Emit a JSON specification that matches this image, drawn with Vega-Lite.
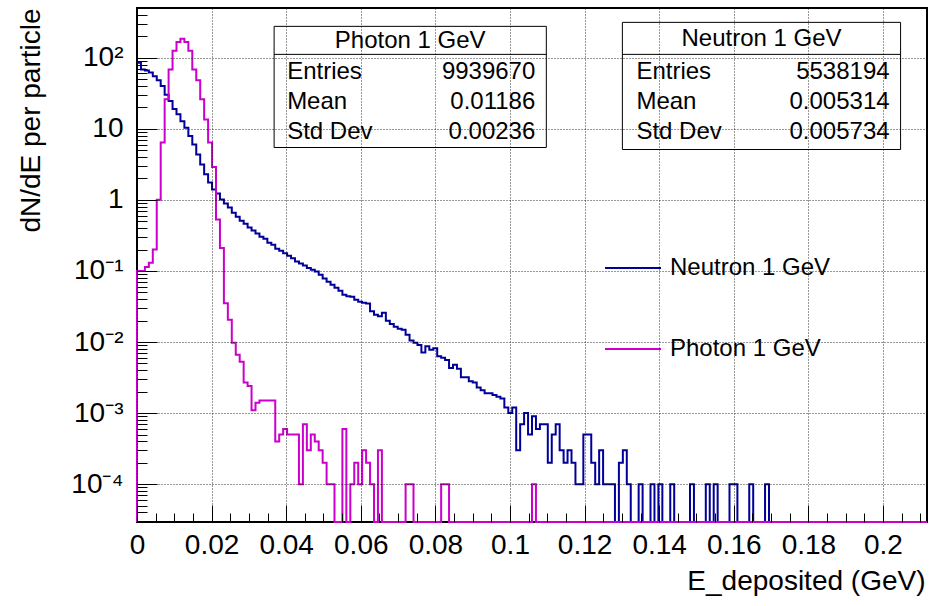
{
  "$schema": "https://vega.github.io/schema/vega-lite/v6.json",
  "width": 790,
  "height": 514,
  "autosize": "none",
  "padding": {"left": 137, "top": 8, "right": 3, "bottom": 84},
  "background": "white",
  "config": {
    "view": {"stroke": "black", "strokeWidth": 2},
    "font": "Liberation Sans",
    "axis": {"labelFont": "Liberation Sans", "titleFont": "Liberation Sans", "labelColor": "black", "titleColor": "black", "titleFontWeight": "normal"}
  },
  "datasets": {
    "hist": [
      {"s":"Neutron 1 GeV","E":0,"v":85},{"s":"Neutron 1 GeV","E":0.001059,"v":68},{"s":"Neutron 1 GeV","E":0.002118,"v":66},{"s":"Neutron 1 GeV","E":0.003177,"v":62},{"s":"Neutron 1 GeV","E":0.004236,"v":55},{"s":"Neutron 1 GeV","E":0.005295,"v":48},{"s":"Neutron 1 GeV","E":0.006354,"v":40},{"s":"Neutron 1 GeV","E":0.007413,"v":30},{"s":"Neutron 1 GeV","E":0.008472,"v":24.5},{"s":"Neutron 1 GeV","E":0.009531,"v":19},
      {"s":"Neutron 1 GeV","E":0.01059,"v":16},{"s":"Neutron 1 GeV","E":0.011649,"v":12.8},{"s":"Neutron 1 GeV","E":0.012708,"v":10.3},{"s":"Neutron 1 GeV","E":0.013767,"v":7.9},{"s":"Neutron 1 GeV","E":0.014826,"v":6.0},{"s":"Neutron 1 GeV","E":0.015885,"v":4.35},{"s":"Neutron 1 GeV","E":0.016944,"v":3.15},{"s":"Neutron 1 GeV","E":0.018003,"v":2.3},{"s":"Neutron 1 GeV","E":0.019062,"v":1.75},{"s":"Neutron 1 GeV","E":0.020121,"v":1.4},
      {"s":"Neutron 1 GeV","E":0.02118,"v":1.23},{"s":"Neutron 1 GeV","E":0.022239,"v":1.01},{"s":"Neutron 1 GeV","E":0.023298,"v":0.89},{"s":"Neutron 1 GeV","E":0.024357,"v":0.78},{"s":"Neutron 1 GeV","E":0.025416,"v":0.66},{"s":"Neutron 1 GeV","E":0.026475,"v":0.58},{"s":"Neutron 1 GeV","E":0.027534,"v":0.51},{"s":"Neutron 1 GeV","E":0.028593,"v":0.46},{"s":"Neutron 1 GeV","E":0.029652,"v":0.41},{"s":"Neutron 1 GeV","E":0.030711,"v":0.37},
      {"s":"Neutron 1 GeV","E":0.03177,"v":0.335},{"s":"Neutron 1 GeV","E":0.032829,"v":0.303},{"s":"Neutron 1 GeV","E":0.033888,"v":0.284},{"s":"Neutron 1 GeV","E":0.034947,"v":0.25},{"s":"Neutron 1 GeV","E":0.036006,"v":0.234},{"s":"Neutron 1 GeV","E":0.037065,"v":0.206},{"s":"Neutron 1 GeV","E":0.038124,"v":0.193},{"s":"Neutron 1 GeV","E":0.039183,"v":0.178},{"s":"Neutron 1 GeV","E":0.040242,"v":0.164},{"s":"Neutron 1 GeV","E":0.041301,"v":0.151},
      {"s":"Neutron 1 GeV","E":0.04236,"v":0.136},{"s":"Neutron 1 GeV","E":0.043419,"v":0.127},{"s":"Neutron 1 GeV","E":0.044478,"v":0.119},{"s":"Neutron 1 GeV","E":0.045537,"v":0.11},{"s":"Neutron 1 GeV","E":0.046596,"v":0.104},{"s":"Neutron 1 GeV","E":0.047655,"v":0.098},{"s":"Neutron 1 GeV","E":0.048714,"v":0.0887},{"s":"Neutron 1 GeV","E":0.049773,"v":0.078},{"s":"Neutron 1 GeV","E":0.050832,"v":0.0707},{"s":"Neutron 1 GeV","E":0.051891,"v":0.064},
      {"s":"Neutron 1 GeV","E":0.05295,"v":0.058},{"s":"Neutron 1 GeV","E":0.054009,"v":0.0528},{"s":"Neutron 1 GeV","E":0.055068,"v":0.0463},{"s":"Neutron 1 GeV","E":0.056127,"v":0.0441},{"s":"Neutron 1 GeV","E":0.057186,"v":0.0434},{"s":"Neutron 1 GeV","E":0.058245,"v":0.0394},{"s":"Neutron 1 GeV","E":0.059304,"v":0.037},{"s":"Neutron 1 GeV","E":0.060363,"v":0.0358},{"s":"Neutron 1 GeV","E":0.061422,"v":0.0347},{"s":"Neutron 1 GeV","E":0.062481,"v":0.027},
      {"s":"Neutron 1 GeV","E":0.06354,"v":0.0242},{"s":"Neutron 1 GeV","E":0.064599,"v":0.0231},{"s":"Neutron 1 GeV","E":0.065658,"v":0.0259},{"s":"Neutron 1 GeV","E":0.066717,"v":0.02},{"s":"Neutron 1 GeV","E":0.067776,"v":0.018},{"s":"Neutron 1 GeV","E":0.068835,"v":0.0164},{"s":"Neutron 1 GeV","E":0.069894,"v":0.0154},{"s":"Neutron 1 GeV","E":0.070953,"v":0.0149},{"s":"Neutron 1 GeV","E":0.072012,"v":0.0127},{"s":"Neutron 1 GeV","E":0.073071,"v":0.0105},
      {"s":"Neutron 1 GeV","E":0.07413,"v":0.0098},{"s":"Neutron 1 GeV","E":0.075189,"v":0.0091},{"s":"Neutron 1 GeV","E":0.076248,"v":0.0071},{"s":"Neutron 1 GeV","E":0.077307,"v":0.0087},{"s":"Neutron 1 GeV","E":0.078366,"v":0.0078},{"s":"Neutron 1 GeV","E":0.079425,"v":0.0082},{"s":"Neutron 1 GeV","E":0.080484,"v":0.0063},{"s":"Neutron 1 GeV","E":0.081543,"v":0.006},{"s":"Neutron 1 GeV","E":0.082602,"v":0.0056},{"s":"Neutron 1 GeV","E":0.083661,"v":0.0043},
      {"s":"Neutron 1 GeV","E":0.08472,"v":0.0048},{"s":"Neutron 1 GeV","E":0.085779,"v":0.0042},{"s":"Neutron 1 GeV","E":0.086838,"v":0.0032},{"s":"Neutron 1 GeV","E":0.087897,"v":0.0032},{"s":"Neutron 1 GeV","E":0.088956,"v":0.0028},{"s":"Neutron 1 GeV","E":0.090015,"v":0.0027},{"s":"Neutron 1 GeV","E":0.091074,"v":0.0023},{"s":"Neutron 1 GeV","E":0.092133,"v":0.0021},{"s":"Neutron 1 GeV","E":0.093192,"v":0.0019},{"s":"Neutron 1 GeV","E":0.094251,"v":0.0019},
      {"s":"Neutron 1 GeV","E":0.09531,"v":0.0018},{"s":"Neutron 1 GeV","E":0.096369,"v":0.0017},{"s":"Neutron 1 GeV","E":0.097428,"v":0.0016},{"s":"Neutron 1 GeV","E":0.098487,"v":0.0012},{"s":"Neutron 1 GeV","E":0.099546,"v":0.001},{"s":"Neutron 1 GeV","E":0.100605,"v":0.0012},{"s":"Neutron 1 GeV","E":0.101664,"v":0.0003},{"s":"Neutron 1 GeV","E":0.102723,"v":0.0007},{"s":"Neutron 1 GeV","E":0.103782,"v":0.001},{"s":"Neutron 1 GeV","E":0.104841,"v":0.0005},
      {"s":"Neutron 1 GeV","E":0.1059,"v":0.0009},{"s":"Neutron 1 GeV","E":0.106959,"v":0.0006},{"s":"Neutron 1 GeV","E":0.108018,"v":0.0007},{"s":"Neutron 1 GeV","E":0.109077,"v":0.0007},{"s":"Neutron 1 GeV","E":0.110136,"v":0.0002},{"s":"Neutron 1 GeV","E":0.111195,"v":0.0005},{"s":"Neutron 1 GeV","E":0.112254,"v":0.0007},{"s":"Neutron 1 GeV","E":0.113313,"v":0.0003},{"s":"Neutron 1 GeV","E":0.114372,"v":0.0002},{"s":"Neutron 1 GeV","E":0.115431,"v":0.0003},
      {"s":"Neutron 1 GeV","E":0.11649,"v":0.0002},{"s":"Neutron 1 GeV","E":0.117549,"v":0.0001},{"s":"Neutron 1 GeV","E":0.118608,"v":0.0001},{"s":"Neutron 1 GeV","E":0.119667,"v":0.0005},{"s":"Neutron 1 GeV","E":0.120726,"v":0.0005},{"s":"Neutron 1 GeV","E":0.121785,"v":0.0002},{"s":"Neutron 1 GeV","E":0.122844,"v":0.0001},{"s":"Neutron 1 GeV","E":0.123903,"v":0.0003},{"s":"Neutron 1 GeV","E":0.124962,"v":0.0001},{"s":"Neutron 1 GeV","E":0.126021,"v":0.0001},
      {"s":"Neutron 1 GeV","E":0.12708,"v":0.0001},{"s":"Neutron 1 GeV","E":0.128139,"v":0},{"s":"Neutron 1 GeV","E":0.129198,"v":0.0002},{"s":"Neutron 1 GeV","E":0.130257,"v":0.0003},{"s":"Neutron 1 GeV","E":0.131316,"v":0.0001},{"s":"Neutron 1 GeV","E":0.132375,"v":0},{"s":"Neutron 1 GeV","E":0.133434,"v":0},{"s":"Neutron 1 GeV","E":0.134493,"v":0.0001},{"s":"Neutron 1 GeV","E":0.135552,"v":0},{"s":"Neutron 1 GeV","E":0.136611,"v":0},
      {"s":"Neutron 1 GeV","E":0.13767,"v":0.0001},{"s":"Neutron 1 GeV","E":0.138729,"v":0},{"s":"Neutron 1 GeV","E":0.139788,"v":0.0001},{"s":"Neutron 1 GeV","E":0.140847,"v":0},{"s":"Neutron 1 GeV","E":0.141906,"v":0},{"s":"Neutron 1 GeV","E":0.142965,"v":0.0001},{"s":"Neutron 1 GeV","E":0.144024,"v":0},{"s":"Neutron 1 GeV","E":0.145083,"v":0},{"s":"Neutron 1 GeV","E":0.146142,"v":0},{"s":"Neutron 1 GeV","E":0.147201,"v":0},
      {"s":"Neutron 1 GeV","E":0.14826,"v":0.0001},{"s":"Neutron 1 GeV","E":0.149319,"v":0},{"s":"Neutron 1 GeV","E":0.150378,"v":0},{"s":"Neutron 1 GeV","E":0.151437,"v":0},{"s":"Neutron 1 GeV","E":0.152496,"v":0.0001},{"s":"Neutron 1 GeV","E":0.153555,"v":0},{"s":"Neutron 1 GeV","E":0.154614,"v":0.0001},{"s":"Neutron 1 GeV","E":0.155673,"v":0},{"s":"Neutron 1 GeV","E":0.156732,"v":0},{"s":"Neutron 1 GeV","E":0.157791,"v":0},
      {"s":"Neutron 1 GeV","E":0.15885,"v":0.0001},{"s":"Neutron 1 GeV","E":0.159909,"v":0.0001},{"s":"Neutron 1 GeV","E":0.160968,"v":0},{"s":"Neutron 1 GeV","E":0.162027,"v":0},{"s":"Neutron 1 GeV","E":0.163086,"v":0},{"s":"Neutron 1 GeV","E":0.164145,"v":0.0001},{"s":"Neutron 1 GeV","E":0.165204,"v":0},{"s":"Neutron 1 GeV","E":0.166263,"v":0},{"s":"Neutron 1 GeV","E":0.167322,"v":0},{"s":"Neutron 1 GeV","E":0.168381,"v":0.0001},
      {"s":"Neutron 1 GeV","E":0.16944,"v":0},{"s":"Neutron 1 GeV","E":0.2118,"v":0},
      {"s":"Photon 1 GeV","E":0,"v":0},
      {"s":"Photon 1 GeV","E":0,"v":0.1},{"s":"Photon 1 GeV","E":0.001059,"v":0.1},{"s":"Photon 1 GeV","E":0.002118,"v":0.114},{"s":"Photon 1 GeV","E":0.003177,"v":0.13},{"s":"Photon 1 GeV","E":0.004236,"v":0.2},{"s":"Photon 1 GeV","E":0.005295,"v":1.0},{"s":"Photon 1 GeV","E":0.006354,"v":6.4},{"s":"Photon 1 GeV","E":0.007413,"v":26},{"s":"Photon 1 GeV","E":0.008472,"v":68},{"s":"Photon 1 GeV","E":0.009531,"v":125},
      {"s":"Photon 1 GeV","E":0.01059,"v":166},{"s":"Photon 1 GeV","E":0.011649,"v":185},{"s":"Photon 1 GeV","E":0.012708,"v":166},{"s":"Photon 1 GeV","E":0.013767,"v":125},{"s":"Photon 1 GeV","E":0.014826,"v":68},{"s":"Photon 1 GeV","E":0.015885,"v":48},{"s":"Photon 1 GeV","E":0.016944,"v":26},{"s":"Photon 1 GeV","E":0.018003,"v":13.5},{"s":"Photon 1 GeV","E":0.019062,"v":6.4},{"s":"Photon 1 GeV","E":0.020121,"v":2.9},
      {"s":"Photon 1 GeV","E":0.02118,"v":0.53},{"s":"Photon 1 GeV","E":0.022239,"v":0.21},{"s":"Photon 1 GeV","E":0.023298,"v":0.035},{"s":"Photon 1 GeV","E":0.024357,"v":0.0206},{"s":"Photon 1 GeV","E":0.025416,"v":0.0098},{"s":"Photon 1 GeV","E":0.026475,"v":0.0066},{"s":"Photon 1 GeV","E":0.027534,"v":0.0053},{"s":"Photon 1 GeV","E":0.028593,"v":0.0027},{"s":"Photon 1 GeV","E":0.029652,"v":0.0024},{"s":"Photon 1 GeV","E":0.030711,"v":0.0011},
      {"s":"Photon 1 GeV","E":0.03177,"v":0.0014},{"s":"Photon 1 GeV","E":0.032829,"v":0.0015},{"s":"Photon 1 GeV","E":0.033888,"v":0.0015},{"s":"Photon 1 GeV","E":0.034947,"v":0.0015},{"s":"Photon 1 GeV","E":0.036006,"v":0.0015},{"s":"Photon 1 GeV","E":0.037065,"v":0.0004},{"s":"Photon 1 GeV","E":0.038124,"v":0.0005},{"s":"Photon 1 GeV","E":0.039183,"v":0.0006},{"s":"Photon 1 GeV","E":0.040242,"v":0.0005},{"s":"Photon 1 GeV","E":0.041301,"v":0.0005},
      {"s":"Photon 1 GeV","E":0.04236,"v":0.0005},{"s":"Photon 1 GeV","E":0.043419,"v":0.0001},{"s":"Photon 1 GeV","E":0.044478,"v":0.0007},{"s":"Photon 1 GeV","E":0.045537,"v":0.0003},{"s":"Photon 1 GeV","E":0.046596,"v":0.0005},{"s":"Photon 1 GeV","E":0.047655,"v":0.0004},{"s":"Photon 1 GeV","E":0.048714,"v":0.0003},{"s":"Photon 1 GeV","E":0.049773,"v":0.0002},{"s":"Photon 1 GeV","E":0.050832,"v":0.0001},{"s":"Photon 1 GeV","E":0.051891,"v":0.0001},
      {"s":"Photon 1 GeV","E":0.05295,"v":0},{"s":"Photon 1 GeV","E":0.054009,"v":0},{"s":"Photon 1 GeV","E":0.055068,"v":0.0006},{"s":"Photon 1 GeV","E":0.056127,"v":0},{"s":"Photon 1 GeV","E":0.057186,"v":0.0001},{"s":"Photon 1 GeV","E":0.058245,"v":0.0002},{"s":"Photon 1 GeV","E":0.059304,"v":0.0001},{"s":"Photon 1 GeV","E":0.060363,"v":0.0003},{"s":"Photon 1 GeV","E":0.061422,"v":0.0002},{"s":"Photon 1 GeV","E":0.062481,"v":0.0001},
      {"s":"Photon 1 GeV","E":0.06354,"v":0},{"s":"Photon 1 GeV","E":0.064599,"v":0.0003},{"s":"Photon 1 GeV","E":0.065658,"v":0},{"s":"Photon 1 GeV","E":0.066717,"v":0},{"s":"Photon 1 GeV","E":0.067776,"v":0},{"s":"Photon 1 GeV","E":0.068835,"v":0},{"s":"Photon 1 GeV","E":0.069894,"v":0},{"s":"Photon 1 GeV","E":0.070953,"v":0},{"s":"Photon 1 GeV","E":0.072012,"v":0.0001},{"s":"Photon 1 GeV","E":0.073071,"v":0.0001},
      {"s":"Photon 1 GeV","E":0.07413,"v":0},{"s":"Photon 1 GeV","E":0.075189,"v":0},{"s":"Photon 1 GeV","E":0.076248,"v":0},{"s":"Photon 1 GeV","E":0.077307,"v":0},{"s":"Photon 1 GeV","E":0.078366,"v":0},{"s":"Photon 1 GeV","E":0.079425,"v":0},{"s":"Photon 1 GeV","E":0.080484,"v":0},{"s":"Photon 1 GeV","E":0.081543,"v":0.0001},{"s":"Photon 1 GeV","E":0.082602,"v":0.0001},{"s":"Photon 1 GeV","E":0.083661,"v":0},
      {"s":"Photon 1 GeV","E":0.08472,"v":0},{"s":"Photon 1 GeV","E":0.085779,"v":0},{"s":"Photon 1 GeV","E":0.086838,"v":0},{"s":"Photon 1 GeV","E":0.087897,"v":0},{"s":"Photon 1 GeV","E":0.088956,"v":0},{"s":"Photon 1 GeV","E":0.090015,"v":0},{"s":"Photon 1 GeV","E":0.091074,"v":0},{"s":"Photon 1 GeV","E":0.092133,"v":0},{"s":"Photon 1 GeV","E":0.093192,"v":0},{"s":"Photon 1 GeV","E":0.094251,"v":0},
      {"s":"Photon 1 GeV","E":0.09531,"v":0},{"s":"Photon 1 GeV","E":0.096369,"v":0},{"s":"Photon 1 GeV","E":0.097428,"v":0},{"s":"Photon 1 GeV","E":0.098487,"v":0},{"s":"Photon 1 GeV","E":0.099546,"v":0},{"s":"Photon 1 GeV","E":0.100605,"v":0},{"s":"Photon 1 GeV","E":0.101664,"v":0},{"s":"Photon 1 GeV","E":0.102723,"v":0},{"s":"Photon 1 GeV","E":0.103782,"v":0},{"s":"Photon 1 GeV","E":0.104841,"v":0},
      {"s":"Photon 1 GeV","E":0.1059,"v":0.0001},{"s":"Photon 1 GeV","E":0.106959,"v":0},{"s":"Photon 1 GeV","E":0.2118,"v":0}
    ],
    "stats": [
      {"box":"Photon 1 GeV","keys":"Entries\nMean\nStd Dev","vals":"9939670\n0.01186\n0.00236"},
      {"box":"Neutron 1 GeV","keys":"Entries\nMean\nStd Dev","vals":"5538194\n0.005314\n0.005734"}
    ]
  },
  "resolve": {"axis": {"x": "independent", "y": "independent"}},
  "layer": [
    {
      "data": {"name": "hist"},
      "transform": [{"filter": "datum.s == 'Neutron 1 GeV'"}],
      "mark": {"type": "line", "interpolate": "step-after", "strokeWidth": 2, "clip": false},
      "encoding": {
        "x": {"field": "E", "type": "quantitative",
          "scale": {"domain": [0, 0.2118], "nice": false, "zero": false},
          "axis": {"orient": "bottom", "zindex": 1,
            "values": [0,0.005,0.01,0.015,0.02,0.025,0.03,0.035,0.04,0.045,0.05,0.055,0.06,0.065,0.07,0.075,0.08,0.085,0.09,0.095,0.1,0.105,0.11,0.115,0.12,0.125,0.13,0.135,0.14,0.145,0.15,0.155,0.16,0.165,0.17,0.175,0.18,0.185,0.19,0.195,0.2,0.205,0.21],
            "format": "~g",
            "labelExpr": "abs(datum.value*50 - round(datum.value*50)) < 0.001 ? datum.label : ''",
            "ticks": true, "tickSize": -17, "tickColor": "black", "tickWidth": 1, "tickOpacity": 1,
            "tickDash": {"condition": {"test": "abs(datum.value*50 - round(datum.value*50)) > 0.001", "value": [9, 40]}, "value": [40, 0]},
            "labelFontSize": 28, "labelPadding": 26, "labelFlush": false, "labelOverlap": false,
            "grid": true, "gridDash": [1,2], "gridColor": "black", "gridWidth": 1,
            "gridOpacity": {"condition": {"test": "abs(datum.value*50 - round(datum.value*50)) > 0.001", "value": 0}, "value": 0.8},
            "domain": false,
            "title": "E_deposited (GeV)", "titleFontSize": 28, "titleAlign": "right", "titleAnchor": "end", "titleX": 788, "titleY": 67, "titleBaseline": "alphabetic"}},
        "y": {"field": "v", "type": "quantitative",
          "scale": {"type": "log", "domain": [2.94e-5, 500], "nice": false, "clamp": true},
          "axis": {"orient": "left", "zindex": 1,
            "values": [0.00003,0.00004,0.00005,0.00006,0.00007,0.00008,0.00009,0.0001,0.0002,0.0003,0.0004,0.0005,0.0006,0.0007,0.0008,0.0009,0.001,0.002,0.003,0.004,0.005,0.006,0.007,0.008,0.009,0.01,0.02,0.03,0.04,0.05,0.06,0.07,0.08,0.09,0.1,0.2,0.3,0.4,0.5,0.6,0.7,0.8,0.9,1,2,3,4,5,6,7,8,9,10,20,30,40,50,60,70,80,90,100,200,300,400],
            "labelExpr": "datum.value == 100 ? '10²' : datum.value == 10 ? '10' : datum.value == 1 ? '1' : datum.value == 0.1 ? '10⁻¹' : datum.value == 0.01 ? '10⁻²' : datum.value == 0.001 ? '10⁻³' : datum.value == 0.0001 ? '10⁻⁴' : ''",
            "ticks": true, "tickSize": -20, "tickColor": "black", "tickWidth": 1, "tickOpacity": 1,
            "tickDash": {"condition": {"test": "abs(log(datum.value)/LN10 - round(log(datum.value)/LN10)) > 0.001", "value": [10, 40]}, "value": [40, 0]},
            "labelFontSize": 28, "labelPadding": 34, "labelOverlap": false, "labelFlush": false,
            "grid": true, "gridDash": [1,2], "gridColor": "black", "gridWidth": 1,
            "gridOpacity": {"condition": {"test": "abs(log(datum.value)/LN10 - round(log(datum.value)/LN10)) > 0.001", "value": 0}, "value": 0.8},
            "domain": false,
            "title": "dN/dE per particle", "titleFontSize": 28, "titleAngle": -90, "titleAlign": "right", "titleAnchor": "end", "titleX": -98, "titleY": 0, "titleBaseline": "alphabetic"}},
        "color": {"field": "s", "type": "nominal",
          "scale": {"domain": ["Neutron 1 GeV", "Photon 1 GeV"], "range": ["#000099", "#cc00cc"]},
          "legend": {"orient": "none", "legendX": 457, "legendY": 221, "title": null, "symbolType": "stroke", "symbolSize": 3136, "symbolStrokeWidth": 2, "labelFontSize": 24, "labelFont": "Liberation Sans", "labelColor": "black", "labelOffset": 8, "labelLimit": 400, "rowPadding": 40, "padding": 10, "fillColor": "white"}}
      }
    },
    {
      "data": {"name": "hist"},
      "transform": [{"filter": "datum.s == 'Photon 1 GeV'"}],
      "mark": {"type": "line", "interpolate": "step-after", "strokeWidth": 2, "clip": false},
      "encoding": {
        "x": {"field": "E", "type": "quantitative", "axis": null},
        "y": {"field": "v", "type": "quantitative", "axis": null},
        "color": {"field": "s", "type": "nominal",
          "legend": {"orient": "none", "legendX": 457, "legendY": 221, "title": null, "symbolType": "stroke", "symbolSize": 3136, "symbolStrokeWidth": 2, "labelFontSize": 24, "labelFont": "Liberation Sans", "labelColor": "black", "labelOffset": 8, "labelLimit": 400, "rowPadding": 40, "padding": 10, "fillColor": "white"}}
      }
    },
    {
      "data": {"name": "stats"},
      "transform": [{"filter": "datum.box == 'Photon 1 GeV'"}],
      "mark": {"type": "rect", "fill": "white", "stroke": "black", "strokeWidth": 1},
      "encoding": {
        "x": {"datum": 0.03676, "type": "quantitative", "axis": null},
        "x2": {"datum": 0.10974},
        "y": {"datum": 276, "type": "quantitative", "axis": null},
        "y2": {"datum": 5.45}
      }
    },
    {
      "data": {"name": "stats"},
      "transform": [{"filter": "datum.box == 'Photon 1 GeV'"}],
      "mark": {"type": "rule", "color": "black", "strokeWidth": 1},
      "encoding": {
        "x": {"datum": 0.03676, "type": "quantitative", "axis": null},
        "x2": {"datum": 0.10974},
        "y": {"datum": 111.3, "type": "quantitative", "axis": null}
      }
    },
    {
      "data": {"name": "stats"},
      "transform": [{"filter": "datum.box == 'Photon 1 GeV'"}],
      "mark": {"type": "text", "font": "Liberation Sans", "fontSize": 24, "align": "center", "baseline": "middle", "color": "black"},
      "encoding": {
        "x": {"datum": 0.07325, "type": "quantitative", "axis": null},
        "y": {"datum": 172, "type": "quantitative", "axis": null},
        "text": {"field": "box"}
      }
    },
    {
      "data": {"name": "stats"},
      "transform": [{"filter": "datum.box == 'Photon 1 GeV'"}],
      "mark": {"type": "text", "font": "Liberation Sans", "fontSize": 24, "align": "left", "baseline": "middle", "lineBreak": "\n", "lineHeight": 30, "color": "black"},
      "encoding": {
        "x": {"datum": 0.04025, "type": "quantitative", "axis": null},
        "y": {"datum": 62.1, "type": "quantitative", "axis": null},
        "text": {"field": "keys"}
      }
    },
    {
      "data": {"name": "stats"},
      "transform": [{"filter": "datum.box == 'Photon 1 GeV'"}],
      "mark": {"type": "text", "font": "Liberation Sans", "fontSize": 24, "align": "right", "baseline": "middle", "lineBreak": "\n", "lineHeight": 30, "color": "black"},
      "encoding": {
        "x": {"datum": 0.10679, "type": "quantitative", "axis": null},
        "y": {"datum": 62.1, "type": "quantitative", "axis": null},
        "text": {"field": "vals"}
      }
    },
    {
      "data": {"name": "stats"},
      "transform": [{"filter": "datum.box == 'Neutron 1 GeV'"}],
      "mark": {"type": "rect", "fill": "white", "stroke": "black", "strokeWidth": 1},
      "encoding": {
        "x": {"datum": 0.13013, "type": "quantitative", "axis": null},
        "x2": {"datum": 0.20472},
        "y": {"datum": 314, "type": "quantitative", "axis": null},
        "y2": {"datum": 5.11}
      }
    },
    {
      "data": {"name": "stats"},
      "transform": [{"filter": "datum.box == 'Neutron 1 GeV'"}],
      "mark": {"type": "rule", "color": "black", "strokeWidth": 1},
      "encoding": {
        "x": {"datum": 0.13013, "type": "quantitative", "axis": null},
        "x2": {"datum": 0.20472},
        "y": {"datum": 111.3, "type": "quantitative", "axis": null}
      }
    },
    {
      "data": {"name": "stats"},
      "transform": [{"filter": "datum.box == 'Neutron 1 GeV'"}],
      "mark": {"type": "text", "font": "Liberation Sans", "fontSize": 24, "align": "center", "baseline": "middle", "color": "black"},
      "encoding": {
        "x": {"datum": 0.16743, "type": "quantitative", "axis": null},
        "y": {"datum": 181, "type": "quantitative", "axis": null},
        "text": {"field": "box"}
      }
    },
    {
      "data": {"name": "stats"},
      "transform": [{"filter": "datum.box == 'Neutron 1 GeV'"}],
      "mark": {"type": "text", "font": "Liberation Sans", "fontSize": 24, "align": "left", "baseline": "middle", "lineBreak": "\n", "lineHeight": 30, "color": "black"},
      "encoding": {
        "x": {"datum": 0.13389, "type": "quantitative", "axis": null},
        "y": {"datum": 62.1, "type": "quantitative", "axis": null},
        "text": {"field": "keys"}
      }
    },
    {
      "data": {"name": "stats"},
      "transform": [{"filter": "datum.box == 'Neutron 1 GeV'"}],
      "mark": {"type": "text", "font": "Liberation Sans", "fontSize": 24, "align": "right", "baseline": "middle", "lineBreak": "\n", "lineHeight": 30, "color": "black"},
      "encoding": {
        "x": {"datum": 0.20177, "type": "quantitative", "axis": null},
        "y": {"datum": 62.1, "type": "quantitative", "axis": null},
        "text": {"field": "vals"}
      }
    }
  ]
}
